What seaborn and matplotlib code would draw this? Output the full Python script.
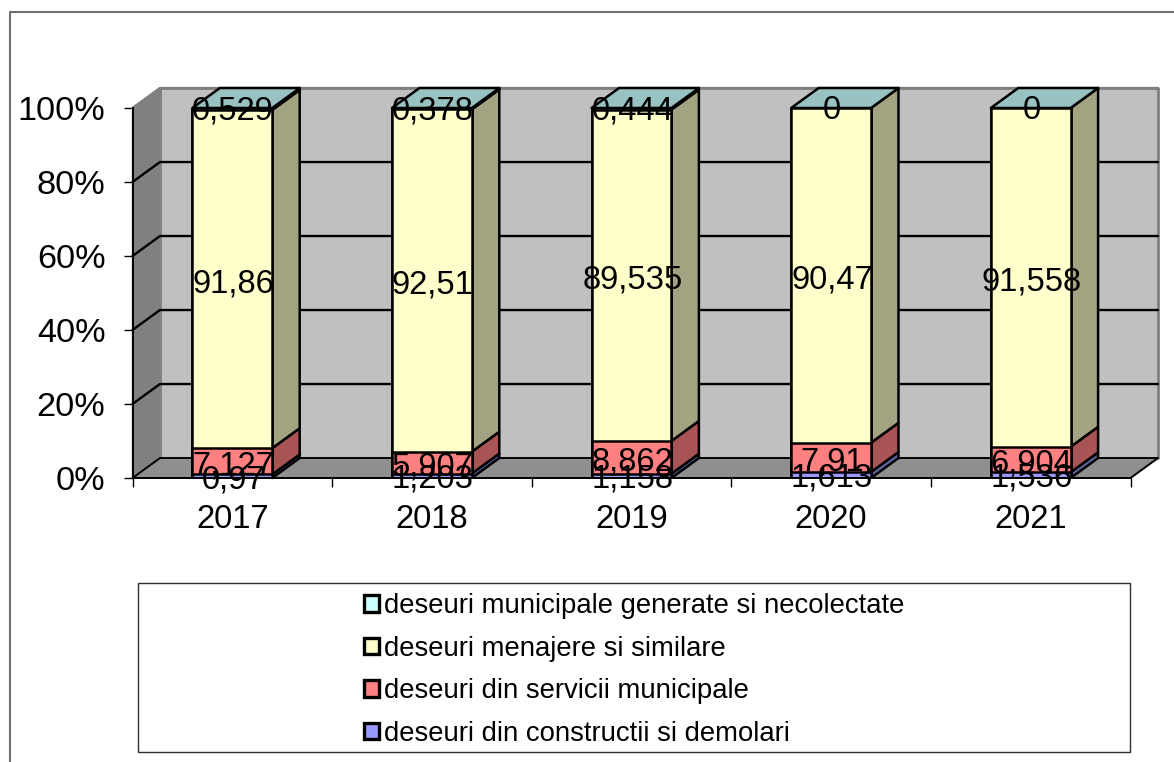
import numpy as np
import pandas as pd
import seaborn as sns
import matplotlib.pyplot as plt
from matplotlib.patches import Polygon, Rectangle, Patch
from matplotlib.lines import Line2D

years = ["2017", "2018", "2019", "2020", "2021"]
constructii = [0.97, 1.203, 1.158, 1.613, 1.536]
servicii = [7.127, 5.907, 8.862, 7.91, 6.904]
menajere = [91.86, 92.51, 89.535, 90.47, 91.558]
necolectate = [0.529, 0.378, 0.444, 0, 0]
labels_constructii = ["0,97", "1,203", "1,158", "1,613", "1,536"]
labels_servicii = ["7,127", "5,907", "8,862", "7,91", "6,904"]
labels_menajere = ["91,86", "92,51", "89,535", "90,47", "91,558"]
labels_necolectate = ["0,529", "0,378", "0,444", "0", "0"]
names = ["deseuri din constructii si demolari", "deseuri din servicii municipale",
         "deseuri menajere si similare", "deseuri municipale generate si necolectate"]
front_colors = ["#9999FF", "#FF8080", "#FFFFCC", "#CCFFFF"]
side_colors = ["#6464A8", "#A85454", "#A3A382", "#99C3C3"]

W, H = 1174, 762
sns.set_style("white")
plt.rcParams["font.family"] = ["Liberation Sans", "DejaVu Sans"]

raw = np.array([constructii, servicii, menajere, necolectate], dtype=float)
pct = raw / raw.sum(axis=0) * 100
tops = pct.cumsum(axis=0)
bottoms = tops - pct

fig = plt.figure(figsize=(W / 100, H / 100), dpi=100)
ax = fig.add_axes([132.5 / W, 1 - 478 / H, 998 / W, 370 / H])

# depth of the fake 3d box, in data units
dx = 0.1376
dy = 5.4
bw = 0.4
x0, x1 = -0.5, 4.5


def face(pts, color, z, ec="black", lw=1.8):
    ax.add_patch(Polygon(pts, closed=True, fc=color, ec=ec, lw=lw, zorder=z,
                         clip_on=False, joinstyle="round"))


# walls and floor
face([(x0 + dx, dy), (x1 + dx, dy), (x1 + dx, 100 + dy), (x0 + dx, 100 + dy)], "#C0C0C0", 1, "#808080", 2)
face([(x0, 0), (x0 + dx, dy), (x0 + dx, 100 + dy), (x0, 100)], "#808080", 1, "#808080", 1)
face([(x0, 0), (x1, 0), (x1 + dx, dy), (x0 + dx, dy)], "#8F8F8F", 1.5, "#808080", 1)

for v in [20, 40, 60, 80, 100]:
    ax.plot([x0, x0 + dx, x1 + dx], [v, v + dy, v + dy], color="#808080" if v == 100 else "black",
            lw=1.7, zorder=2, clip_on=False)
ax.plot([x0, x0 + dx, x1 + dx, x1], [0, dy, dy, 0], color="black", lw=1.4, zorder=2, clip_on=False)

# stacked front faces: tallest first, the shorter ones paint over it
for i in [3, 2, 1, 0]:
    frame = pd.DataFrame({"an": years, "val": tops[i]})
    sns.barplot(data=frame, x="an", y="val", color=front_colors[i], saturation=1, width=bw,
                edgecolor="black", linewidth=1.8, zorder=5, ax=ax)

# side and top faces
for k in range(len(years)):
    right = k + bw / 2
    left = k - bw / 2
    for i in range(4):
        if pct[i, k] <= 0:
            continue
        b, t = bottoms[i, k], tops[i, k]
        face([(right, b), (right + dx, b + dy), (right + dx, t + dy), (right, t)], side_colors[i], 4)
    face([(left, 100), (right, 100), (right + dx, 100 + dy), (left + dx, 100 + dy)], side_colors[3], 4)

# value labels, centred on each segment
label_sets = [labels_constructii, labels_servicii, labels_menajere, labels_necolectate]
label_shift = [-0.9, -1.2, -1.3, -0.6]
for i, labs in enumerate(label_sets):
    for k, lab in enumerate(labs):
        ax.text(k + 0.004, (bottoms[i, k] + tops[i, k]) / 2 + label_shift[i], lab, ha="center", va="center",
                fontsize=23.6, color="black", zorder=7, clip_on=False)

ax.set_xlim(x0, x1)
ax.set_ylim(0, 100)
ax.set_xlabel("")
ax.set_ylabel("")
ax.patch.set_alpha(0)
for s in ["top", "right"]:
    ax.spines[s].set_visible(False)
for s in ["left", "bottom"]:
    ax.spines[s].set_color("black")
    ax.spines[s].set_linewidth(1.4)
    ax.spines[s].set_zorder(6)
ax.set_yticks([0, 20, 40, 60, 80, 100])
ax.set_yticklabels(["0%", "20%", "40%", "60%", "80%", "100%"])
ax.tick_params(axis="y", direction="out", length=6.5, width=1, color="black", labelsize=24.7,
               labelcolor="black", pad=13, left=True)
ax.tick_params(axis="x", which="major", length=0, labelsize=23.6, labelcolor="black", pad=19)
ax.set_xticks(np.arange(len(years) + 1) - 0.5, minor=True)
ax.tick_params(axis="x", which="minor", direction="out", length=6.5, width=1, color="black", bottom=True)

# outer chart frame and legend box
fig.add_artist(Line2D([10 / W, 10 / W, 1], [0, 1 - 12 / H, 1 - 12 / H], color="#707070", lw=1.5))
fig.add_artist(Rectangle((138 / W, 1 - 752 / H), 992 / W, 169 / H, transform=fig.transFigure,
                         fc="white", ec="#303030", lw=1))
handles = [Patch(fc=front_colors[i], ec="black", lw=2.4, label=names[i]) for i in [3, 2, 1, 0]]
fig.legend(handles=handles, loc="center", bbox_to_anchor=(634 / W, 1 - 670 / H), frameon=False,
           fontsize=19.8, handlelength=0.55, handleheight=0.55, handletextpad=0.2, labelspacing=0.6,
           borderpad=0, labelcolor="black")

fig.savefig("out.png", dpi=100, facecolor="white")
